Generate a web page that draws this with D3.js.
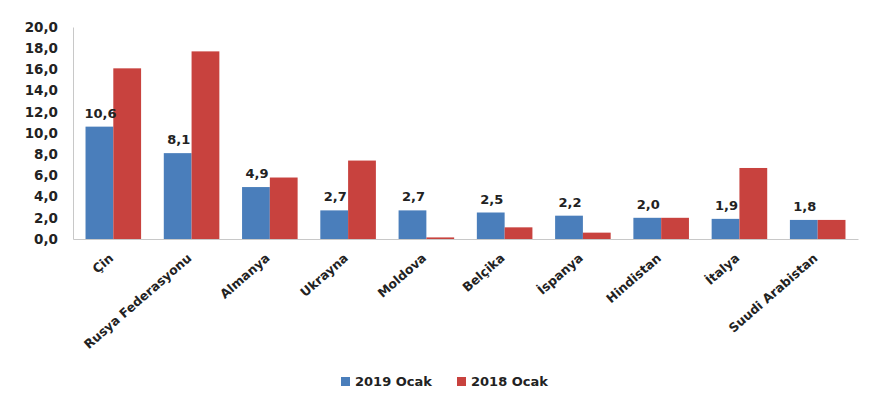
<!DOCTYPE html>
<html>
<head>
<meta charset="utf-8">
<script src="https://cdn.jsdelivr.net/npm/d3@7"></script>
<style>
  body { margin: 0; background: #fff; }
  text { font-family: "DejaVu Sans", sans-serif; font-weight: bold; fill: #222; }
</style>
</head>
<body>
<svg id="container" width="887" height="393"></svg>
<script>
const countries = ["Çin", "Rusya Federasyonu", "Almanya", "Ukrayna", "Moldova", "Belçika", "İspanya", "Hindistan", "İtalya", "Suudi Arabistan"];
const ocak2019 = [10.6, 8.1, 4.9, 2.7, 2.7, 2.5, 2.2, 2.0, 1.9, 1.8];
const ocak2018 = [16.1, 17.7, 5.8, 7.4, 0.15, 1.1, 0.6, 2.0, 6.7, 1.8];
const seriesNames = ["2019 Ocak", "2018 Ocak"];
const colors = ["#4A7EBB", "#C8423E"];
const yTicks = [0, 2, 4, 6, 8, 10, 12, 14, 16, 18, 20];

const margin = {top: 27, right: 29, bottom: 154, left: 73},
  w = 887 - margin.left - margin.right,
  h = 393 - margin.top - margin.bottom;

const fmt = v => d3.format(".1f")(v).replace(".", ",");

var svg = d3.select("#container")
  .append("g")
  .attr("transform", "translate(" + margin.left + "," + margin.top + ")");

var x0 = d3.scaleBand().domain(countries).range([0, w]).paddingInner(0.29).paddingOuter(0.16);
var x1 = d3.scaleBand().domain(seriesNames).range([0, x0.bandwidth()]);
var y = d3.scaleLinear().domain([0, 20]).range([h, 0]);

// y axis
var gY = svg.append("g")
  .call(d3.axisLeft(y).tickValues(yTicks).tickFormat(fmt).tickSize(0).tickPadding(15));
gY.select(".domain").attr("stroke", "#c8c8c8");
gY.selectAll(".tick text").style("font-size", "13.5px").style("font-family", "DejaVu Sans").style("font-weight", "bold").attr("fill", "#222");

var rows = countries.map((c, i) => ({country: c, vals: [ocak2019[i], ocak2018[i]]}));

var groups = svg.selectAll("g.cat")
  .data(rows)
  .enter().append("g")
  .attr("class", "cat")
  .attr("transform", d => "translate(" + x0(d.country) + ",0)");

groups.selectAll("rect")
  .data(d => d.vals.map((v, j) => ({key: seriesNames[j], v: v, j: j})))
  .enter().append("rect")
  .attr("x", d => x1(d.key))
  .attr("y", d => y(d.v))
  .attr("width", x1.bandwidth())
  .attr("height", d => h - y(d.v))
  .attr("fill", d => colors[d.j]);

// value labels for 2019
groups.append("text")
  .attr("x", x1(seriesNames[0]) + x1.bandwidth() / 2 + 1)
  .attr("y", d => y(d.vals[0]) - 9)
  .attr("text-anchor", "middle")
  .style("font-size", "13px")
  .text(d => fmt(d.vals[0]));

// x axis
var gX = svg.append("g")
  .attr("transform", "translate(0," + h + ")")
  .call(d3.axisBottom(x0).tickSize(0).tickSizeOuter(0));
gX.select(".domain").attr("stroke", "#c8c8c8");
gX.selectAll(".tick text")
  .style("font-size", "12.5px").style("font-family", "DejaVu Sans").style("font-weight", "bold").attr("fill", "#222")
  .attr("text-anchor", "end")
  .attr("transform", "translate(-2,17) rotate(-41)")
  .attr("dy", "0.35em")
  .attr("y", 0);

// legend
var legend = d3.select("#container").append("g")
  .attr("transform", "translate(341,381)");
var li = legend.selectAll("g").data(seriesNames).enter().append("g")
  .attr("transform", (d, i) => "translate(" + (i * 116) + ",0)");
li.append("rect").attr("x", 0).attr("y", -4).attr("width", 9).attr("height", 9).attr("fill", (d, i) => colors[i]);
li.append("text").attr("x", 14).attr("y", 0).attr("dy", "0.35em").style("font-size", "13px").text(d => d);
</script>
</body>
</html>
